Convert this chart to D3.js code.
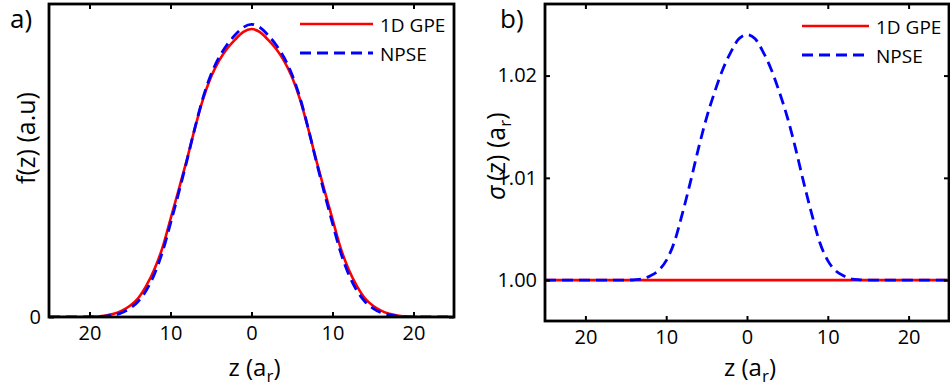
<!DOCTYPE html>
<html><head><meta charset="utf-8">
<script src="https://cdn.jsdelivr.net/npm/d3@7"></script>
<style>body{margin:0;background:#fff}text{font-family:"Open Sans",sans-serif;fill:#000}</style>
</head><body><svg id="c" width="950" height="389"></svg>
<script>
// z grid (units of a_r)
const zValues = [-25,-24,-23,-22,-21,-20,-19,-18,-17,-16,-15,-14,-13,-12,-11,-10,-9,-8,-7,-6,-5,-4,-3,-2,-1,0,1,2,3,4,5,6,7,8,9,10,11,12,13,14,15,16,17,18,19,20,21,22,23,24,25];
// panel a) f(z)
const fGPE = [0,0,0,0,0,0.001,0.002,0.005,0.011,0.022,0.039,0.065,0.108,0.165,0.240,0.340,0.441,0.544,0.654,0.755,0.833,0.890,0.932,0.964,0.990,1.000,0.990,0.964,0.932,0.890,0.833,0.755,0.654,0.544,0.441,0.340,0.240,0.165,0.108,0.065,0.039,0.022,0.011,0.005,0.002,0.001,0,0,0,0,0];
const fNPSE = [0,0,0,0,0,0,0.001,0.003,0.007,0.015,0.030,0.054,0.092,0.148,0.225,0.325,0.430,0.540,0.655,0.760,0.842,0.902,0.946,0.980,1.006,1.016,1.006,0.980,0.946,0.902,0.842,0.760,0.655,0.540,0.430,0.325,0.225,0.148,0.092,0.054,0.030,0.015,0.007,0.003,0.001,0,0,0,0,0,0];
// panel b) sigma(z)
const sGPE = [1,1,1,1,1,1,1,1,1,1,1,1,1,1,1,1,1,1,1,1,1,1,1,1,1,1,1,1,1,1,1,1,1,1,1,1,1,1,1,1,1,1,1,1,1,1,1,1,1,1,1];
const sNPSE = [1,1,1,1,1,1,1,1,1,1,1,1.00003,1.0001,1.0004,1.0009,1.0019,1.0037,1.0065,1.0096,1.0129,1.0159,1.0184,1.0206,1.0223,1.0236,1.0240,1.0236,1.0223,1.0206,1.0184,1.0159,1.0129,1.0096,1.0065,1.0037,1.0019,1.0009,1.0004,1.0001,1.00003,1,1,1,1,1,1,1,1,1,1,1];
const xTicks = [-20,-10,0,10,20];
const fTicks = [0];
const sTicks = [1.00,1.01,1.02];
const seriesNames = ["1D GPE","NPSE"];

const svg = d3.select("#c");
const RED = "#ff0000", BLUE = "#0000ff";

function panel(o){
  const g = svg.append("g");
  const x = d3.scaleLinear().domain([-25,25]).range([o.x0,o.x1]);
  const y = d3.scaleLinear().domain(o.yd).range([o.y1,o.y0]);
  const clipId = "clip"+o.id;
  svg.append("clipPath").attr("id",clipId).append("rect")
    .attr("x",o.x0).attr("y",o.y0).attr("width",o.x1-o.x0).attr("height",o.y1-o.y0);
  const line = vals => d3.line().curve(d3.curveMonotoneX)
      .x((d,i)=>x(zValues[i])).y(d=>y(d))(vals);
  const cg = g.append("g").attr("clip-path",`url(#${clipId})`);
  cg.append("path").attr("d",line(o.red)).attr("fill","none").attr("stroke",RED).attr("stroke-width",2.6);
  cg.append("path").attr("d",line(o.blue)).attr("fill","none").attr("stroke",BLUE).attr("stroke-width",2.8)
    .attr("stroke-dasharray","11,6");
  // axes
  const fmtX = d=>String(Math.abs(d));
  const ax = g.append("g").attr("transform",`translate(0,${o.y1})`)
    .call(d3.axisBottom(x).tickValues(xTicks).tickFormat(fmtX).tickSizeInner(-5).tickSizeOuter(0).tickPadding(9));
  const axT = g.append("g").attr("transform",`translate(0,${o.y0})`)
    .call(d3.axisTop(x).tickValues(xTicks).tickFormat("").tickSizeInner(-5).tickSizeOuter(0));
  const ay = g.append("g").attr("transform",`translate(${o.x0},0)`)
    .call(d3.axisLeft(y).tickValues(o.yt).tickFormat(o.yf).tickSizeInner(-5).tickSizeOuter(0).tickPadding(8));
  const ayR = g.append("g").attr("transform",`translate(${o.x1},0)`)
    .call(d3.axisRight(y).tickValues(o.yt).tickFormat("").tickSizeInner(-5).tickSizeOuter(0));
  [ax,axT,ay,ayR].forEach(a=>{
    a.select(".domain").remove();
    a.selectAll("line").attr("stroke","#000").attr("stroke-width",2);
    a.selectAll("text").style("font-family","'Open Sans',sans-serif").style("font-size","20px").attr("fill","#000");
  });
  g.append("rect").attr("x",o.x0).attr("y",o.y0).attr("width",o.x1-o.x0).attr("height",o.y1-o.y0)
    .attr("fill","none").attr("stroke","#000").attr("stroke-width",2.8);
  // legend
  const L = o.leg;
  g.append("line").attr("x1",L.x0).attr("x2",L.x1).attr("y1",L.y).attr("y2",L.y).attr("stroke",RED).attr("stroke-width",2.6);
  g.append("line").attr("x1",L.x0).attr("x2",L.x1).attr("y1",L.y+29).attr("y2",L.y+29).attr("stroke",BLUE).attr("stroke-width",2.8).attr("stroke-dasharray","11,6");
  g.append("text").attr("x",L.x1+7).attr("y",L.y+8).style("font-size","19px").text(seriesNames[0]);
  g.append("text").attr("x",L.x1+7).attr("y",L.y+37).style("font-size","19px").text(seriesNames[1]);
  // x title
  const xt = g.append("text").attr("x",(o.x0+o.x1)/2+3).attr("y",376).attr("text-anchor","middle").style("font-size","24px");
  xt.append("tspan").text("z (a");
  xt.append("tspan").attr("dy",6).style("font-size","17px").text("r");
  xt.append("tspan").attr("dy",-6).text(")");
  // panel label
  g.append("text").attr("x",o.lab[0]).attr("y",o.lab[1]).style("font-size","26px").text(o.label);
  return {x,y,g};
}

const A = panel({id:"a",x0:49,x1:454,y0:4,y1:317,yd:[0,1.0868],yt:fTicks,yf:d=>"0",red:fGPE,blue:fNPSE,
  leg:{x0:300,x1:373,y:24},lab:[10,28],label:"a)"});
const B = panel({id:"b",x0:545,x1:949,y0:4,y1:321,yd:[0.996,1.027],yt:sTicks,yf:d3.format(".2f"),red:sGPE,blue:sNPSE,
  leg:{x0:802,x1:869,y:26},lab:[500,28],label:"b)"});

// y titles
svg.append("text").attr("transform","translate(35,138) rotate(-90)").attr("text-anchor","middle").style("font-size","25px").text("f(z) (a.u)");
svg.append("text").attr("transform","translate(505,200) rotate(-90)").attr("text-anchor","start")
  .style("font-size","25px").style("font-style","italic").text("σ");
const yb = svg.append("text").attr("transform","translate(505,181) rotate(-90)").attr("text-anchor","start").style("font-size","25px");
yb.append("tspan").text("(z) (a");
yb.append("tspan").attr("dy",6).style("font-size","17px").text("r");
yb.append("tspan").attr("dy",-6).text(")");
</script></body></html>
